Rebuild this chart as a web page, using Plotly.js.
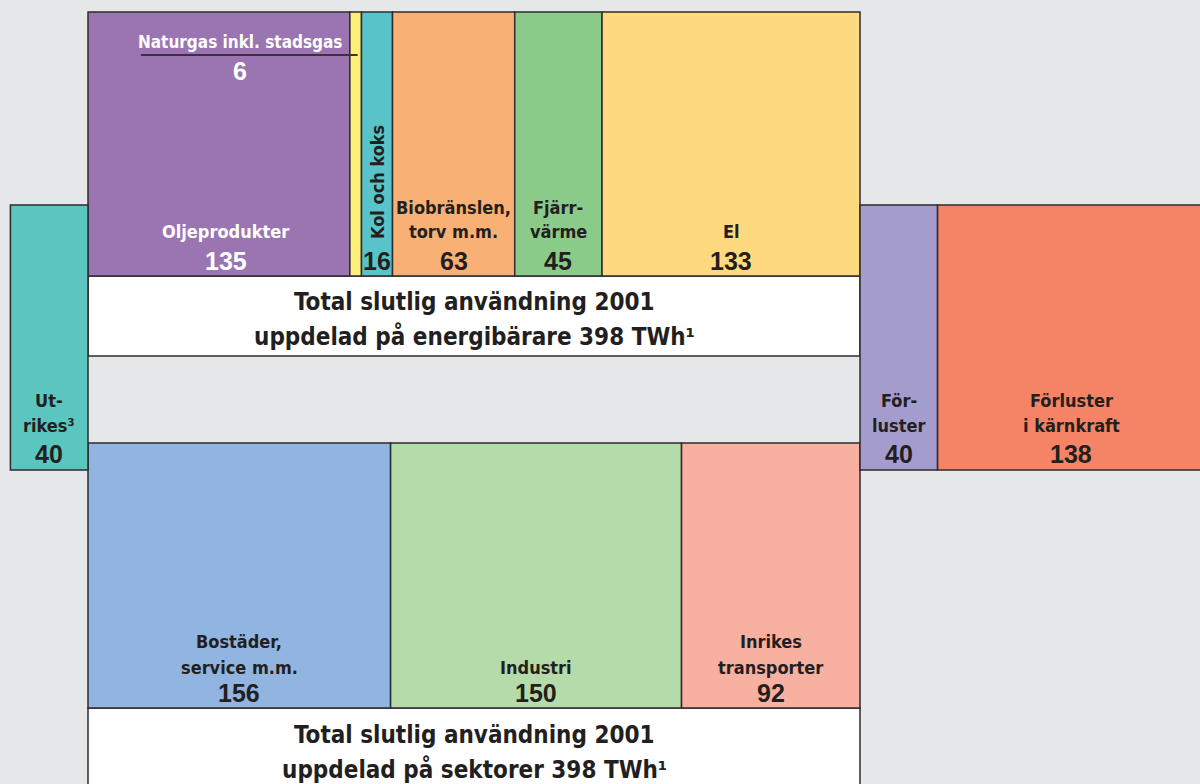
<!DOCTYPE html>
<html><head><meta charset="utf-8">
<script src="https://cdn.plot.ly/plotly-3.0.1.min.js"></script>
<style>html,body{margin:0;padding:0;background:#e6e7e8;overflow:hidden;}</style>
</head><body><div id="chart" style="width:1200px;height:784px;"></div>
<script>
// ---- Data (TWh, 2001) ----
const carrierLines = [['Oljeprodukter'], ['Naturgas inkl. stadsgas'], ['Kol och koks'], ['Biobränslen,', 'torv m.m.'], ['Fjärr-', 'värme'], ['El']];
const carrierValues = [135, 6, 16, 63, 45, 133];
const carrierColors = ['#9b75b2', '#fdf07a', '#58c4c9', '#f9b074', '#8bcb8a', '#ffd97f'];

const sectorLines = [['Bostäder,', 'service m.m.'], ['Industri'], ['Inrikes', 'transporter']];
const sectorValues = [156, 150, 92];
const sectorColors = ['#91b5e0', '#b5dbaa', '#f8b0a1'];

const foreignLines = [['Ut-', 'rikes³']];
const foreignValues = [40];
const foreignColors = ['#5ac6bf'];

const lossLines = [['För-', 'luster'], ['Förluster', 'i kärnkraft']];
const lossValues = [40, 138];
const lossColors = ['#a49ccc', '#f48465'];

const totalTWh = 398;
const titleTop = ['Total slutlig användning 2001', 'uppdelad på energibärare 398 TWh¹'];
const titleBottom = ['Total slutlig användning 2001', 'uppdelad på sektorer 398 TWh¹'];

// ---- Layout geometry ----
const PX_PER_TWH = 772 / 398;
const LEFT_PX = 88;
const TOP = {y0: 12, y1: 276};
const BOX1 = {y0: 276, y1: 356};
const BOT = {y0: 443, y1: 708};
const BOX2 = {y0: 708, y1: 800};
const SIDE = {y0: 205, y1: 470};
const EDGE = '#2e2b2c';
const DARK = '#231f20';
const LABEL_FONT = 'Liberation Sans Narrow, Arial Narrow, DejaVu Sans Condensed, sans-serif';
const NUM_FONT = 'Liberation Sans, Arial, sans-serif';
const LABEL_SIZE = 18;
const NUM_SIZE = 25;
const TITLE_SIZE = 24;

function lefts(values, start) {
  const out = []; let acc = start;
  values.forEach(v => { out.push(acc); acc += v; });
  return out;
}
function barTrace(values, start, colors, band) {
  const l = lefts(values, start);
  return {
    type: 'bar', orientation: 'v',
    x: values.map((v, i) => l[i] + v / 2),
    y: values.map(() => band.y1 - band.y0),
    base: values.map(() => band.y0),
    width: values,
    marker: {color: colors, line: {color: EDGE, width: 1.5}},
    hoverinfo: 'skip', showlegend: false
  };
}

const carrierLeft = lefts(carrierValues, 0);
const sectorLeft = lefts(sectorValues, 0);
const foreignLeft = lefts(foreignValues, -foreignValues.reduce((a, b) => a + b, 0));
const lossLeft = lefts(lossValues, totalTWh);

const traces = [
  barTrace(carrierValues, 0, carrierColors, TOP),
  barTrace(sectorValues, 0, sectorColors, BOT),
  barTrace(foreignValues, foreignLeft[0], foreignColors, SIDE),
  barTrace(lossValues, totalTWh, lossColors, SIDE)
];

const annotations = [];
function ann(x, y, text, opts) {
  const o = Object.assign({size: LABEL_SIZE, family: LABEL_FONT, color: DARK, xanchor: 'center', angle: 0, xshift: 0}, opts || {});
  annotations.push({
    x: x, y: y, xref: 'x', yref: 'y', text: text, showarrow: false,
    xanchor: o.xanchor, yanchor: 'middle', textangle: o.angle, xshift: o.xshift,
    font: {family: o.family, size: o.size, color: o.color, weight: 'bold'}
  });
}
function labelBlock(cx, lines, lastY, spacing, valueY, value, color, xshift) {
  lines.forEach((t, i) => ann(cx, lastY - (lines.length - 1 - i) * spacing, t, {color: color, xshift: xshift || 0}));
  ann(cx, valueY, String(value), {family: NUM_FONT, size: NUM_SIZE, color: color, xshift: xshift || 0});
}

// Top row labels
carrierValues.forEach((v, i) => {
  const cx = carrierLeft[i] + v / 2;
  if (i === 1) {
    // Naturgas: label placed over the oil block with a leader line
    const tx = carrierLeft[i] - 110 / PX_PER_TWH;
    ann(tx, 42, carrierLines[i][0], {color: '#ffffff', size: 17});
    ann(tx, 71, String(v), {family: NUM_FONT, size: NUM_SIZE, color: '#ffffff'});
  } else if (i === 2) {
    ann(cx, 182, carrierLines[i][0], {angle: -90});
    ann(cx, 261, String(v), {family: NUM_FONT, size: NUM_SIZE});
  } else {
    labelBlock(cx, carrierLines[i], 231, 24, 261, v, i === 0 ? '#ffffff' : DARK, i === 0 ? 7 : 0);
  }
});
// Sector labels
sectorValues.forEach((v, i) => {
  labelBlock(sectorLeft[i] + v / 2, sectorLines[i], 667, 26, 693, v, DARK);
});
// Side labels
foreignValues.forEach((v, i) => {
  labelBlock(foreignLeft[i] + v / 2, foreignLines[i], 425, 24.5, 454, v, DARK);
});
lossValues.forEach((v, i) => {
  labelBlock(lossLeft[i] + v / 2, lossLines[i], 425, 24.5, 454, v, DARK);
});
// Titles
ann(totalTWh / 2, 302, titleTop[0], {size: TITLE_SIZE});
ann(totalTWh / 2, 336, titleTop[1], {size: TITLE_SIZE});
ann(totalTWh / 2, 735, titleBottom[0], {size: TITLE_SIZE});
ann(totalTWh / 2, 769, titleBottom[1], {size: TITLE_SIZE});

const shapes = [
  {type: 'rect', xref: 'x', yref: 'y', x0: 0, x1: totalTWh, y0: BOX1.y0, y1: BOX1.y1, fillcolor: '#ffffff', line: {color: EDGE, width: 1.5}, layer: 'below'},
  {type: 'rect', xref: 'x', yref: 'y', x0: 0, x1: totalTWh, y0: BOX2.y0, y1: BOX2.y1, fillcolor: '#ffffff', line: {color: EDGE, width: 1.5}, layer: 'below'},
  {type: 'line', xref: 'x', yref: 'y', x0: (141 - LEFT_PX) / PX_PER_TWH, x1: carrierLeft[1] + carrierValues[1] / 2 + 1, y0: 55, y1: 55, line: {color: '#3a3040', width: 2}}
];

const layout = {
  width: 1200, height: 784,
  margin: {l: 0, r: 0, t: 0, b: 0, pad: 0},
  paper_bgcolor: '#e6e7e8', plot_bgcolor: '#e6e7e8',
  barmode: 'overlay', bargap: 0,
  xaxis: {range: [-LEFT_PX / PX_PER_TWH, (1200 - LEFT_PX) / PX_PER_TWH], visible: false, fixedrange: true},
  yaxis: {range: [784, 0], visible: false, fixedrange: true},
  showlegend: false,
  shapes: shapes,
  annotations: annotations
};
Plotly.newPlot('chart', traces, layout, {staticPlot: true, displayModeBar: false});
</script></body></html>
